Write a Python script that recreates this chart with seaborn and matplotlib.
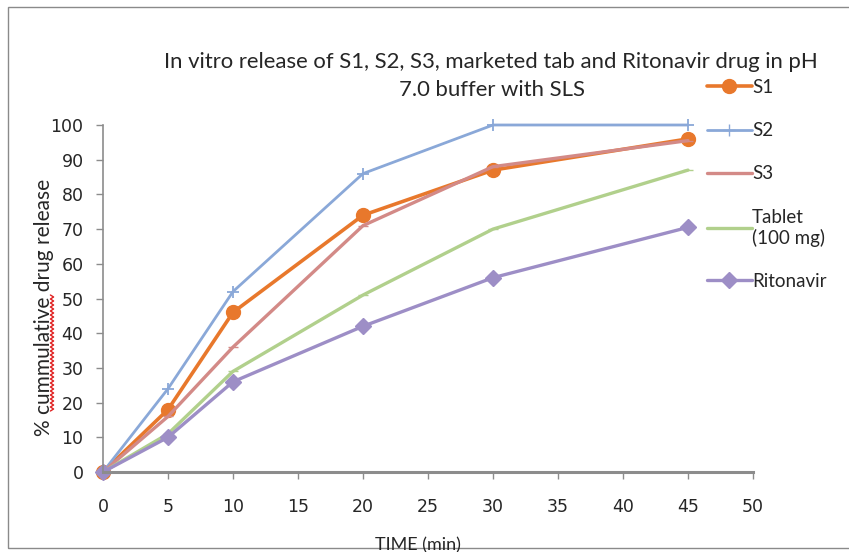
import numpy as np
import pandas as pd
import matplotlib
matplotlib.use("Agg")
import matplotlib.pyplot as plt
from matplotlib.lines import Line2D
from matplotlib.patches import Rectangle
import seaborn as sns

# Sampling times (min)
time_min = [0, 5, 10, 20, 30, 45]

# Cumulative drug release (%)
s1 = [0, 18, 46, 74, 87, 96]
s2 = [0, 24, 52, 86, 100, 100]
s3 = [0, 16, 36, 71, 88, 95.5]
tablet = [0, 11, 29, 51, 70, 87]
ritonavir = [0, 10, 26, 42, 56, 70.5]

series_names = ["S1", "S2", "S3", "Tablet\n(100 mg)", "Ritonavir"]
series_values = [s1, s2, s3, tablet, ritonavir]

x_ticks = list(range(0, 55, 5))
y_ticks = list(range(0, 110, 10))

colors = ["#E8782C", "#8AA8D8", "#D38A87", "#B1D08C", "#9D8EC6"]
markers = ["o", "+", "_", "_", "D"]
msizes = [10, 9, 7, 7, 8]
lwidths = [2.6, 2.0, 2.4, 2.4, 2.4]

sns.set_style("white")
plt.rcParams["font.family"] = ["DejaVu Sans"]
label_font = ["Lato", "DejaVu Sans"]

W, H = 849, 552
fig = plt.figure(figsize=(W / 100, H / 100), dpi=100)
ax = fig.add_axes([103 / W, 1 - 472 / H, (753 - 103) / W, (472 - 125) / H])

df = pd.DataFrame({
    "time": np.tile(time_min, len(series_names)),
    "release": np.concatenate(series_values),
    "series": np.repeat(series_names, len(time_min)),
})

handles = []
for name, c, m, ms, lw in zip(series_names, colors, markers, msizes, lwidths):
    sub = df[df["series"] == name]
    sns.lineplot(data=sub, x="time", y="release", ax=ax, color=c, marker=m,
                 markersize=ms, linewidth=lw, markeredgecolor=c,
                 markeredgewidth=1.3 if m == "+" else 1.0, clip_on=False,
                 legend=False)
    handles.append(Line2D([], [], color=c, marker=m, markersize=ms,
                          linewidth=lw, markeredgecolor=c))

ax.set_xlim(0, 50)
ax.set_ylim(0, 100)
ax.set_xticks(x_ticks)
ax.set_yticks(y_ticks)
ax.set_xlabel("")
ax.set_ylabel("")
for s in ["top", "right"]:
    ax.spines[s].set_visible(False)
for s in ["left", "bottom"]:
    ax.spines[s].set_color("#8C8C8C")
ax.spines["left"].set_linewidth(1.2)
ax.spines["bottom"].set_linewidth(2.2)
ax.tick_params(axis="x", direction="out", length=5, width=1, color="#8C8C8C",
               pad=14, labelsize=12.5, labelcolor="#262626", bottom=True)
ax.tick_params(axis="y", direction="out", length=5, width=1, color="#8C8C8C",
               pad=9, labelsize=12.5, labelcolor="#262626", left=True)

# Title
fig.text(491 / W, 1 - 62 / H,
         "In vitro release of S1, S2, S3, marketed tab and Ritonavir drug in pH",
         ha="center", va="center", fontsize=15.9, family=label_font,
         color="#262626")
fig.text(492 / W, 1 - 90 / H, "7.0 buffer with SLS",
         ha="center", va="center", fontsize=15.9, family=label_font,
         color="#262626")

# Axis titles
fig.text(44 / W, 1 - 307 / H, "% cummulative drug release", rotation=90,
         ha="center", va="center", fontsize=15, family=label_font,
         color="#262626")
fig.text(418 / W, 1 - 537 / H, "TIME (min)", ha="center", va="top",
         fontsize=13, family=label_font, color="#262626")

# Spell-check underline under "cummulative"
yy = np.arange(295, 413, 2.0)
xx = 52 + 1.6 * np.where(np.arange(len(yy)) % 2 == 0, -1, 1)
fig.add_artist(Line2D(xx / W, 1 - yy / H, color="#E02020", linewidth=1.0,
                      transform=fig.transFigure))

# Legend
leg = ax.legend(handles, series_names, loc="upper left",
                bbox_to_anchor=(690 / W, 1 - 62 / H),
                bbox_transform=fig.transFigure, frameon=False,
                handlelength=2.4, handletextpad=0.0, labelspacing=1.4,
                prop={"family": label_font, "size": 13.5})
for t in leg.get_texts():
    t.set_color("#262626")

# Chart frame
fig.add_artist(Rectangle((8 / W, 1 - 548 / H), 1.2, (548 - 7) / H,
                         transform=fig.transFigure, fill=False,
                         edgecolor="#8A8A8A", linewidth=1.0))

fig.savefig("out.png", dpi=100)
